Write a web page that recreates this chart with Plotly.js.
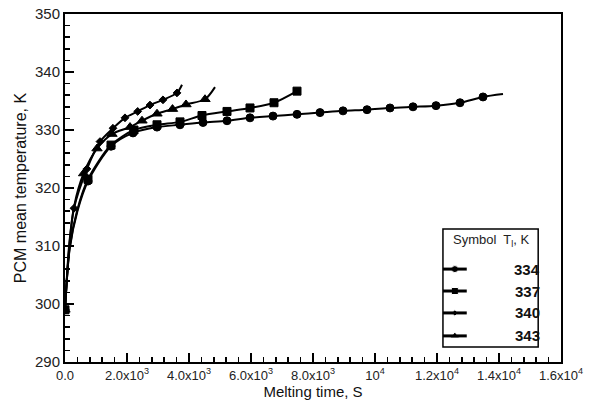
<!DOCTYPE html>
<html>
<head>
<meta charset="utf-8">
<script src="https://cdn.plot.ly/plotly-3.0.1.min.js"></script>
<style>html,body{margin:0;padding:0;background:#fff;}#chart{width:597px;height:401px;}</style>
</head>
<body>
<div id="chart"></div>
<script>
// Series data (time in s, temperature in K)
var t334 = [0, 150, 400, 742, 1484, 2194, 2968, 3710, 4452, 5226, 5968, 6710, 7484, 8226, 8968, 9742, 10484, 11226, 11968, 12742, 13484, 14129];
var T334 = [299, 309.5, 316, 321.2, 327.2, 329.5, 330.5, 330.9, 331.3, 331.6, 332.1, 332.4, 332.7, 333.0, 333.3, 333.5, 333.8, 334.0, 334.2, 334.7, 335.7, 336.2];
var t337 = [0, 150, 400, 742, 1484, 2226, 2968, 3710, 4419, 5226, 5968, 6742, 7484];
var T337 = [299, 309.7, 316.3, 321.5, 327.4, 330.0, 330.9, 331.4, 332.5, 333.2, 333.8, 334.7, 336.7];
var t340 = [0, 140, 290, 710, 1129, 1548, 1935, 2345, 2742, 3161, 3613, 3774];
var T340 = [299, 310, 316.5, 323.3, 328.0, 330.3, 332.1, 333.2, 334.3, 335.2, 336.4, 337.8];
var t343 = [0, 140, 300, 600, 1032, 1516, 2097, 2484, 2968, 3468, 3903, 4516, 4839];
var T343 = [299, 310.5, 317, 322.5, 326.8, 329.3, 330.5, 331.6, 332.8, 333.6, 334.4, 335.3, 337.4];
// points drawn without a symbol (line only)
var lineOnly334 = [150, 400, 14129];
var lineOnly337 = [150, 400];
var lineOnly340 = [140, 3774];
var lineOnly343 = [140, 300, 4839];
var names = ['334', '337', '340', '343'];
var legendHeader = 'Symbol  T<sub>l</sub>, K';
var xTickVals = [0, 2000, 4000, 6000, 8000, 10000, 12000, 14000, 16000];
var xTickText = ['0.0', '2.0x10<sup>3</sup>', '4.0x10<sup>3</sup>', '6.0x10<sup>3</sup>', '8.0x10<sup>3</sup>', '10<sup>4</sup>', '1.2x10<sup>4</sup>', '1.4x10<sup>4</sup>', '1.6x10<sup>4</sup>'];

var series = [
  {t: t334, T: T334, skip: lineOnly334, sym: 'circle', size: 8},
  {t: t337, T: T337, skip: lineOnly337, sym: 'square', size: 8},
  {t: t340, T: T340, skip: lineOnly340, sym: 'diamond', size: 6},
  {t: t343, T: T343, skip: lineOnly343, sym: 'triangle-up', size: 9}
];

var traces = series.map(function (s, i) {
  return {
    x: s.t, y: s.T, name: names[i], showlegend: false,
    type: 'scatter', mode: 'lines+markers', opacity: 1,
    line: {color: '#000', width: 2, shape: 'spline', smoothing: 0.8},
    marker: {
      symbol: s.sym, color: '#000', opacity: 1, line: {color: '#000', width: 1},
      size: s.t.map(function (v) { return s.skip.indexOf(v) >= 0 ? 0 : s.size; })
    }
  };
});

// Custom legend box (paper coordinates of the plot area)
var box = {x0: 0.762, x1: 0.954, y0: 0.043, y1: 0.382};
var rowY = [0.267, 0.204, 0.141, 0.075];
var legFont = 'Liberation Sans, Arial, sans-serif';
var shapes = [{type: 'rect', xref: 'paper', yref: 'paper', x0: box.x0, x1: box.x1, y0: box.y0, y1: box.y1,
  line: {color: '#000', width: 1.5}, fillcolor: 'rgba(0,0,0,0)', layer: 'above'}];
var annotations = [{xref: 'paper', yref: 'paper', x: 0.86, xanchor: 'center', y: 0.348, yanchor: 'middle',
  text: legendHeader, showarrow: false, font: {family: legFont, size: 13, color: '#222'}}];
series.forEach(function (s, i) {
  shapes.push({type: 'line', xref: 'paper', yref: 'paper', x0: box.x0, x1: box.x0 + 0.048, y0: rowY[i], y1: rowY[i],
    line: {color: '#000', width: 3}, layer: 'above'});
  annotations.push({xref: 'paper', yref: 'paper', x: box.x1 + 0.008, xanchor: 'right', y: rowY[i], yanchor: 'middle',
    text: '<b>' + names[i] + '</b>', showarrow: false, font: {family: legFont, size: 15, color: '#111'}});
});
traces.push({
  x: series.map(function () { return box.x0 + 0.024; }), y: rowY,
  xaxis: 'x2', yaxis: 'y2', type: 'scatter', mode: 'markers', showlegend: false,
  marker: {color: '#000', opacity: 1, symbol: series.map(function (s) { return s.sym; }), size: series.map(function (s) { return s.size - 1; })}
});

var layout = {
  width: 597, height: 401,
  margin: {l: 65, r: 36, t: 14, b: 39},
  paper_bgcolor: '#fff', plot_bgcolor: '#fff',
  showlegend: false,
  shapes: shapes, annotations: annotations,
  xaxis: {
    range: [0, 16000], tickvals: xTickVals, ticktext: xTickText,
    ticks: 'inside', ticklen: 9, tickwidth: 1.5, tickcolor: '#000',
    minor: {dtick: 400, ticks: 'inside', ticklen: 5, tickwidth: 1.5, tickcolor: '#000'},
    showline: true, linecolor: '#000', linewidth: 2, mirror: true,
    showgrid: false, zeroline: false, tickfont: {family: legFont, size: 13, color: '#222'},
    title: {text: 'Melting time, S', font: {family: legFont, size: 15, color: '#111'}, standoff: 0}
  },
  yaxis: {
    range: [290, 350], dtick: 10, tick0: 290,
    ticks: 'inside', ticklen: 9, tickwidth: 1.5, tickcolor: '#000',
    minor: {dtick: 2, ticks: 'inside', ticklen: 5, tickwidth: 1.5, tickcolor: '#000'},
    showline: true, linecolor: '#000', linewidth: 2, mirror: true,
    showgrid: false, zeroline: false, tickfont: {family: legFont, size: 15, color: '#222'},
    title: {text: 'PCM mean temperature, K', font: {family: legFont, size: 16, color: '#111'}, standoff: 4}
  },
  xaxis2: {overlaying: 'x', range: [0, 1], visible: false, fixedrange: true},
  yaxis2: {overlaying: 'y', range: [0, 1], visible: false, fixedrange: true}
};

Plotly.newPlot('chart', traces, layout, {staticPlot: true, displayModeBar: false});
</script>
</body>
</html>
